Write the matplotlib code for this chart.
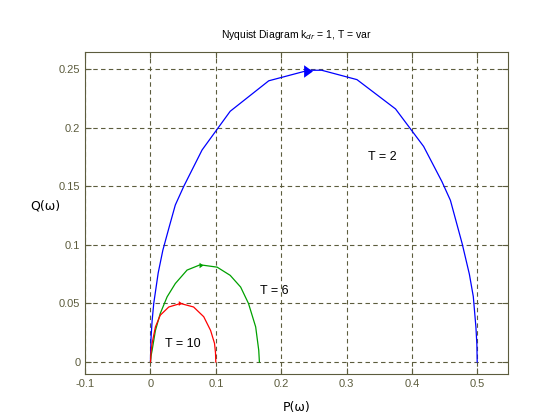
import numpy as np
import matplotlib.pyplot as plt

p_t2 = [0.0, 0.0002, 0.0008, 0.0025, 0.005, 0.0118, 0.019, 0.029, 0.038, 0.051, 0.079, 0.122, 0.181,
        0.242, 0.262, 0.316, 0.375, 0.418, 0.446, 0.459, 0.477, 0.488, 0.494, 0.498, 0.4995, 0.5]
q_t2 = [0.0, 0.007, 0.02, 0.035, 0.050, 0.076, 0.0956, 0.116, 0.134, 0.150, 0.181, 0.214, 0.240,
        0.249, 0.249, 0.241, 0.216, 0.184, 0.154, 0.138, 0.101, 0.075, 0.056, 0.030, 0.015, 0.0]

p_t6 = [0.0, 0.0008, 0.0025, 0.0076, 0.015, 0.0255, 0.038, 0.056, 0.076, 0.102, 0.122, 0.138,
        0.150, 0.161, 0.1657, 0.1667]
q_t6 = [0.0, 0.005, 0.010, 0.027, 0.0415, 0.0557, 0.067, 0.0785, 0.083, 0.081, 0.074, 0.064,
        0.050, 0.030, 0.010, 0.0]

p_t10 = [0.0, 0.0008, 0.0025, 0.0076, 0.015, 0.028, 0.046, 0.066, 0.0815, 0.092, 0.098, 0.0995, 0.1]
q_t10 = [0.0, 0.008, 0.016, 0.030, 0.040, 0.047, 0.050, 0.047, 0.0387, 0.027, 0.016, 0.008, 0.0]

labels = ['T = 2', 'T = 6', 'T = 10']
label_pos = [(0.333, 0.175), (0.167, 0.061), (0.023, 0.015)]
arrow_pos = [(0.2416, 0.248, 9), (0.078, 0.083, 4), (0.045, 0.050, 3.5)]
colors = ['blue', '#00a000', 'red']

# arrow head, taller than wide like the reference
head = [(-0.35, -0.5), (0.35, 0.0), (-0.35, 0.5), (-0.35, -0.5)]

axcol = '#5c5c3d'
fig = plt.figure(figsize=(5.6, 4.2), dpi=100)
ax = fig.add_axes([0.152, 0.11, 0.755, 0.766])

for p, q, c in zip([p_t2, p_t6, p_t10], [q_t2, q_t6, q_t10], colors):
    ax.plot(p, q, color=c, lw=0.9)
for (x, y, s), c in zip(arrow_pos, colors):
    ax.plot(x, y, marker=head, color=c, markersize=s, markeredgewidth=0)
for t, (x, y) in zip(labels, label_pos):
    ax.text(x, y, t, fontsize=9, family='Liberation Sans', va='center')

ax.set_xlim(-0.1, 0.547)
ax.set_ylim(-0.01, 0.2645)
ax.set_xticks([-0.1, 0, 0.1, 0.2, 0.3, 0.4, 0.5])
ax.set_xticklabels(['-0.1', '0', '0.1', '0.2', '0.3', '0.4', '0.5'])
ax.set_yticks([0, 0.05, 0.1, 0.15, 0.2, 0.25])
ax.set_yticklabels(['0', '0.05', '0.1', '0.15', '0.2', '0.25'])
ax.grid(True, ls=(0, (4, 3)), color=axcol, lw=0.8)
ax.tick_params(direction='in', top=True, right=True, colors=axcol, labelsize=8,
               length=4, labelcolor=axcol)
for tl in ax.get_xticklabels() + ax.get_yticklabels():
    tl.set_family('Liberation Sans')
for s in ax.spines.values():
    s.set_color(axcol)

ax.set_xlabel('P(ω)', fontsize=9, family='DejaVu Sans', labelpad=9)
ax.set_ylabel('Q(ω)', fontsize=9, family='DejaVu Sans', rotation=0, labelpad=10)
ax.set_title('Nyquist Diagram k$_{dr}$ = 1, T = var', fontsize=7.5, family='Liberation Sans', pad=10)

fig.savefig('out.png', dpi=100, facecolor='white')
